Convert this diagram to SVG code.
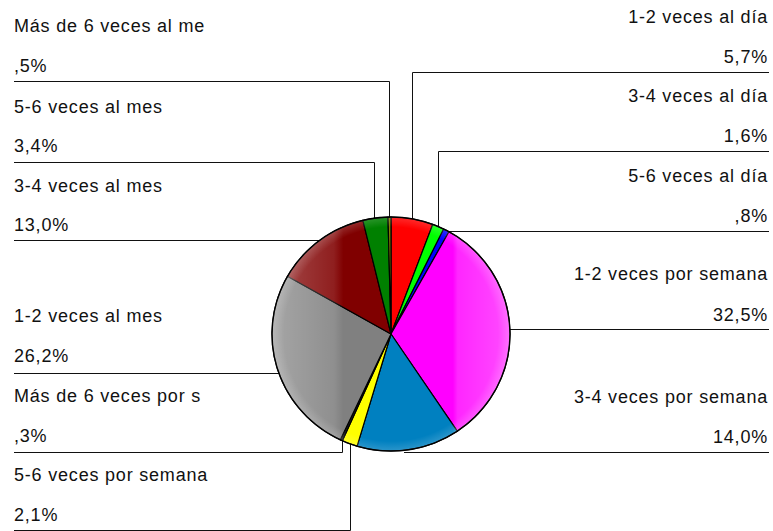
<svg xmlns="http://www.w3.org/2000/svg" width="773" height="531" viewBox="0 0 773 531">
<style>
.t{font-family:"Liberation Sans",Arial,sans-serif;font-size:18px;letter-spacing:0.8px;fill:#111}
.r{text-anchor:end}
.ld{fill:none;stroke:#111;stroke-width:1}
.s{stroke:#000;stroke-width:1.2;stroke-linejoin:round}
</style>
<defs>
<clipPath id="pc"><ellipse cx="391" cy="334" rx="119" ry="117"/></clipPath>
<linearGradient id="lg" x1="272" y1="0" x2="510" y2="0" gradientUnits="userSpaceOnUse">
<stop offset="0" stop-color="#fff" stop-opacity="0.3"/>
<stop offset="0.26" stop-color="#fff" stop-opacity="0.12"/>
<stop offset="0.3" stop-color="#fff" stop-opacity="0"/>
<stop offset="0.76" stop-color="#fff" stop-opacity="0"/>
<stop offset="0.78" stop-color="#fff" stop-opacity="0.15"/>
<stop offset="1" stop-color="#fff" stop-opacity="0.3"/>
</linearGradient>
<radialGradient id="rg" cx="391" cy="334" r="119" gradientUnits="userSpaceOnUse">
<stop offset="0.9" stop-color="#fff" stop-opacity="0"/>
<stop offset="1" stop-color="#fff" stop-opacity="0.2"/>
</radialGradient>
</defs>
<g id="connectors">
<path class="ld" d="M14 81.5H389.5V217"/>
<path class="ld" d="M14 162.5H374.5V218.5"/>
<path class="ld" d="M14 240.5H319"/>
<path class="ld" d="M14 373.5H279"/>
<path class="ld" d="M14 452.5H342.5V441"/>
<path class="ld" d="M14 530.5H350.5V444"/>
<path class="ld" d="M769 72.5H412.5V219"/>
<path class="ld" d="M769 151.5H438.5V226.5"/>
<path class="ld" d="M769 231.5H446"/>
<path class="ld" d="M769 329.5H510"/>
<path class="ld" d="M769 452.5H404"/>
</g>
<g id="pie">
<g id="s-1-2-dia"><path class="s" fill="#ff0000" d="M391 334L391 217A119 117 0 0 1 432.71 224.42Z"/></g>
<g id="s-3-4-dia"><path class="s" fill="#00ff00" d="M391 334L432.71 224.42A119 117 0 0 1 443.69 229.10Z"/></g>
<g id="s-5-6-dia"><path class="s" fill="#0000ff" d="M391 334L443.69 229.10A119 117 0 0 1 448.98 231.82Z"/></g>
<g id="s-1-2-semana"><path class="s" fill="#ff00ff" d="M391 334L448.98 231.82A119 117 0 0 1 457.27 431.18Z"/></g>
<g id="s-3-4-semana"><path class="s" fill="#0080c0" d="M391 334L457.27 431.18A119 117 0 0 1 357.09 446.14Z"/></g>
<g id="s-5-6-semana"><path class="s" fill="#ffff00" d="M391 334L357.09 446.14A119 117 0 0 1 342.37 440.79Z"/></g>
<g id="s-mas6-semana"><path class="s" fill="#202020" d="M391 334L342.37 440.79A119 117 0 0 1 340.33 439.86Z"/></g>
<g id="s-1-2-mes"><path class="s" fill="#808080" d="M391 334L340.33 439.86A119 117 0 0 1 287.46 276.34Z"/></g>
<g id="s-3-4-mes"><path class="s" fill="#800000" d="M391 334L287.46 276.34A119 117 0 0 1 362.86 220.32Z"/></g>
<g id="s-5-6-mes"><path class="s" fill="#008000" d="M391 334L362.86 220.32A119 117 0 0 1 388.01 217.04Z"/></g>
<g id="s-mas6-mes"><path class="s" fill="#808000" d="M391 334L388.01 217.04A119 117 0 0 1 391 217Z"/></g>
<g clip-path="url(#pc)">
<rect x="270" y="215" width="242" height="240" fill="url(#lg)"/>
<rect x="270" y="215" width="242" height="240" fill="url(#rg)"/>
</g>
<ellipse cx="391" cy="334" rx="119" ry="117" fill="none" stroke="#000" stroke-width="1.4"/>
</g>
<g id="labels-left">
<text class="t" x="14" y="32">Más de 6 veces al me</text>
<text class="t" x="14" y="72">,5%</text>
<text class="t" x="14" y="113">5-6 veces al mes</text>
<text class="t" x="14" y="152">3,4%</text>
<text class="t" x="14" y="192">3-4 veces al mes</text>
<text class="t" x="14" y="231">13,0%</text>
<text class="t" x="14" y="322">1-2 veces al mes</text>
<text class="t" x="14" y="362">26,2%</text>
<text class="t" x="14" y="402">Más de 6 veces por s</text>
<text class="t" x="14" y="442">,3%</text>
<text class="t" x="14" y="481">5-6 veces por semana</text>
<text class="t" x="14" y="521">2,1%</text>
</g>
<g id="labels-right">
<text class="t r" x="768" y="23">1-2 veces al día</text>
<text class="t r" x="768" y="63">5,7%</text>
<text class="t r" x="768" y="102">3-4 veces al día</text>
<text class="t r" x="768" y="142">1,6%</text>
<text class="t r" x="768" y="182">5-6 veces al día</text>
<text class="t r" x="768" y="222">,8%</text>
<text class="t r" x="768" y="280">1-2 veces por semana</text>
<text class="t r" x="768" y="321">32,5%</text>
<text class="t r" x="768" y="403">3-4 veces por semana</text>
<text class="t r" x="768" y="443">14,0%</text>
</g>
</svg>
